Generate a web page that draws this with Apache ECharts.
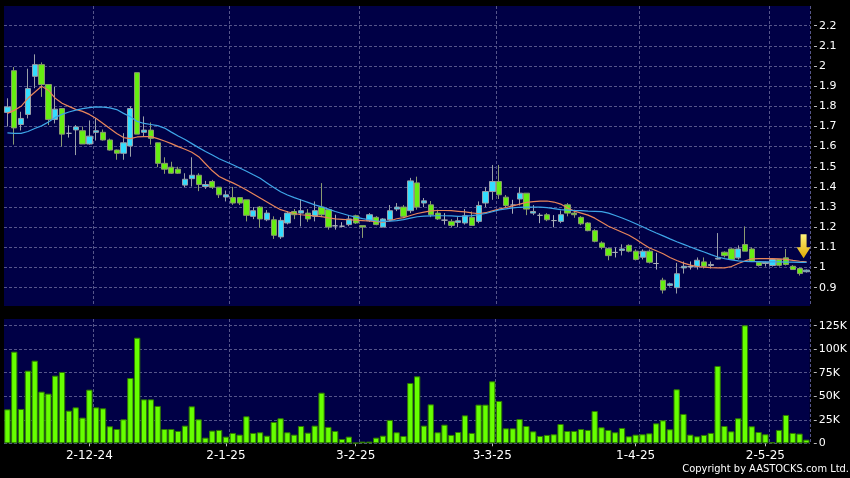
<!DOCTYPE html>
<html><head><meta charset="utf-8">
<script src="https://cdn.jsdelivr.net/npm/echarts@6/dist/echarts.min.js"></script>
<style>html,body{margin:0;padding:0;background:#000;}#c{width:850px;height:478px;}</style>
</head><body><div id="c"></div>
<script>
const dates = [
'14-11-24','15-11-24','18-11-24','19-11-24','20-11-24','21-11-24','22-11-24','25-11-24','26-11-24','27-11-24','28-11-24','29-11-24',
'2-12-24','3-12-24','4-12-24','5-12-24','6-12-24','9-12-24','10-12-24','11-12-24','12-12-24','13-12-24','16-12-24','17-12-24','18-12-24','19-12-24','20-12-24','23-12-24','24-12-24','27-12-24','30-12-24','31-12-24',
'2-1-25','3-1-25','6-1-25','7-1-25','8-1-25','9-1-25','10-1-25','13-1-25','14-1-25','15-1-25','16-1-25','17-1-25','20-1-25','21-1-25','22-1-25','23-1-25','24-1-25','27-1-25','28-1-25',
'3-2-25','4-2-25','5-2-25','6-2-25','7-2-25','10-2-25','11-2-25','12-2-25','13-2-25','14-2-25','17-2-25','18-2-25','19-2-25','20-2-25','21-2-25','24-2-25','25-2-25','26-2-25','27-2-25','28-2-25',
'3-3-25','4-3-25','5-3-25','6-3-25','7-3-25','10-3-25','11-3-25','12-3-25','13-3-25','14-3-25','17-3-25','18-3-25','19-3-25','20-3-25','21-3-25','24-3-25','25-3-25','26-3-25','27-3-25','28-3-25','31-3-25',
'1-4-25','2-4-25','3-4-25','7-4-25','8-4-25','9-4-25','10-4-25','11-4-25','14-4-25','15-4-25','16-4-25','17-4-25','22-4-25','23-4-25','24-4-25','25-4-25','28-4-25','29-4-25','30-4-25',
'2-5-25','6-5-25','7-5-25','8-5-25','9-5-25','12-5-25','13-5-25'];

const opens = [1.77,1.977,1.71,1.76,1.949,2.007,1.908,1.735,1.789,1.666,1.683,1.679,1.613,1.671,1.671,1.633,1.583,1.567,1.603,1.967,
1.671,1.682,1.619,1.517,1.498,1.488,1.409,1.441,1.458,1.402,1.427,1.399,1.35,1.347,1.347,1.336,1.254,1.30,1.237,1.237,
1.152,1.221,1.278,1.27,1.27,1.254,1.30,1.287,1.207,1.205,1.213,1.257,1.208,1.232,1.249,1.201,1.237,1.29,1.30,1.282,
1.42,1.32,1.311,1.27,1.235,1.229,1.224,1.221,1.249,1.229,1.32,1.377,1.427,1.349,1.31,1.34,1.369,1.27,1.259,1.262,
1.233,1.229,1.311,1.27,1.249,1.221,1.183,1.122,1.094,1.075,1.085,1.11,1.081,1.051,1.081,1.02,0.937,0.911,0.90,0.998,
1.004,1.006,1.028,1.01,1.042,1.076,1.092,1.048,1.114,1.092,1.026,1.02,1.01,1.04,1.048,1.006,0.995,0.979];
const closes = [1.797,1.693,1.74,1.888,2.007,1.908,1.735,1.786,1.662,1.666,1.698,1.613,1.652,1.679,1.633,1.583,1.567,1.619,1.789,1.662,
1.682,1.641,1.517,1.488,1.468,1.468,1.438,1.458,1.412,1.412,1.399,1.361,1.361,1.32,1.32,1.259,1.282,1.241,1.27,1.16,
1.234,1.27,1.262,1.282,1.241,1.282,1.262,1.201,1.207,1.205,1.241,1.221,1.201,1.262,1.213,1.241,1.282,1.30,1.254,1.43,
1.30,1.331,1.262,1.241,1.235,1.209,1.232,1.257,1.209,1.308,1.377,1.427,1.361,1.308,1.31,1.369,1.29,1.278,1.259,1.237,
1.233,1.262,1.27,1.262,1.217,1.183,1.13,1.10,1.059,1.075,1.092,1.081,1.04,1.081,1.026,1.02,0.888,0.919,0.969,1.006,
1.004,1.036,1.006,1.015,1.046,1.059,1.04,1.092,1.081,1.031,1.01,1.026,1.04,1.011,1.015,0.99,0.97,0.987];
const lows = [1.70,1.61,1.68,1.74,1.89,1.847,1.707,1.715,1.60,1.645,1.558,1.613,1.61,1.63,1.63,1.58,1.535,1.535,1.55,1.662,
1.65,1.61,1.498,1.465,1.465,1.465,1.399,1.402,1.379,1.39,1.39,1.345,1.328,1.311,1.31,1.229,1.24,1.196,1.23,1.142,
1.142,1.214,1.24,1.204,1.227,1.229,1.25,1.188,1.188,1.20,1.205,1.216,1.147,1.226,1.21,1.20,1.23,1.28,1.245,1.27,
1.287,1.30,1.25,1.236,1.213,1.20,1.20,1.213,1.209,1.22,1.30,1.336,1.34,1.298,1.267,1.308,1.26,1.26,1.22,1.23,
1.20,1.22,1.254,1.247,1.21,1.18,1.125,1.09,1.036,1.05,1.06,1.075,1.035,1.04,1.02,0.99,0.871,0.905,0.871,0.97,
0.99,0.99,0.995,0.995,1.04,1.05,1.04,1.04,1.081,1.03,1.005,1.005,1.005,1.005,1.01,0.988,0.96,0.975];
const highs = [1.84,1.995,1.773,1.987,2.058,2.018,1.91,1.896,1.79,1.705,1.707,1.70,1.73,1.74,1.685,1.64,1.585,1.667,1.80,1.967,
1.75,1.72,1.62,1.547,1.525,1.50,1.468,1.547,1.468,1.43,1.435,1.40,1.382,1.40,1.35,1.336,1.30,1.305,1.285,1.254,
1.25,1.28,1.29,1.34,1.29,1.328,1.419,1.287,1.262,1.225,1.26,1.262,1.208,1.27,1.255,1.245,1.31,1.32,1.31,1.445,
1.451,1.345,1.33,1.287,1.27,1.24,1.25,1.29,1.278,1.328,1.40,1.509,1.509,1.36,1.336,1.40,1.369,1.31,1.27,1.27,
1.26,1.283,1.32,1.287,1.255,1.225,1.19,1.13,1.10,1.10,1.115,1.115,1.09,1.09,1.09,1.073,0.949,0.925,1.023,1.03,
1.03,1.05,1.05,1.03,1.171,1.08,1.095,1.11,1.204,1.10,1.03,1.03,1.04,1.04,1.092,1.012,1.0,0.99];
const volumes = [36.1,97.4,36.5,77.2,87.8,54.9,52.8,71.9,75.8,34.7,38.2,27.3,57.0,38.2,37.2,18.1,15.2,25.5,69.4,112.2,
46.7,46.7,39.7,15.2,15.2,13.1,18.8,39.3,25.5,6.0,13.5,14.2,7.1,11.0,9.2,28.7,11.0,11.7,8.1,22.7,
26.6,11.7,9.2,18.4,11.3,18.8,53.8,17.4,13.1,4.6,7.1,0.4,1.8,1.8,6.0,8.1,24.8,11.7,7.8,64.1,
71.2,18.8,41.4,11.7,19.8,8.9,12.0,29.7,11.0,41.1,41.1,65.9,45.0,15.9,15.9,25.8,18.4,12.7,7.8,8.9,
9.6,20.5,13.1,13.1,15.2,14.2,34.3,17.0,14.2,11.7,16.3,7.4,9.2,9.6,10.6,21.2,24.4,14.9,57.4,31.2,
9.2,7.4,8.9,11.0,82.2,18.4,12.7,26.6,125.4,18.1,12.0,9.6,1.1,14.2,30.1,11.0,10.3,3.9];
const maShort = [1.765,1.78,1.80,1.84,1.87,1.90,1.88,1.84,1.815,1.80,1.785,1.775,1.76,1.74,1.715,1.69,1.665,1.645,1.64,1.648,
1.65,1.65,1.64,1.628,1.615,1.60,1.587,1.572,1.55,1.515,1.48,1.452,1.435,1.42,1.403,1.385,1.365,1.345,1.325,1.305,
1.287,1.277,1.268,1.262,1.259,1.256,1.253,1.246,1.241,1.239,1.237,1.235,1.233,1.231,1.228,1.225,1.232,1.242,1.248,1.258,
1.268,1.275,1.281,1.283,1.283,1.282,1.279,1.276,1.271,1.267,1.272,1.281,1.29,1.298,1.306,1.315,1.323,1.327,1.33,1.33,
1.325,1.315,1.295,1.28,1.27,1.26,1.245,1.225,1.205,1.19,1.175,1.16,1.14,1.118,1.097,1.083,1.068,1.05,1.035,1.022,
1.012,1.005,1.002,0.999,0.998,0.998,1.005,1.02,1.033,1.043,1.044,1.044,1.044,1.043,1.04,1.035,1.031,1.028];
const maLong = [1.668,1.666,1.666,1.675,1.69,1.703,1.722,1.745,1.76,1.772,1.781,1.789,1.794,1.797,1.796,1.792,1.784,1.765,1.748,1.725,
1.715,1.71,1.704,1.692,1.672,1.653,1.635,1.615,1.595,1.576,1.558,1.54,1.525,1.51,1.494,1.478,1.46,1.443,1.42,1.397,
1.376,1.36,1.347,1.335,1.323,1.311,1.301,1.29,1.278,1.268,1.258,1.25,1.243,1.237,1.231,1.229,1.23,1.233,1.238,1.245,
1.252,1.255,1.256,1.257,1.257,1.256,1.254,1.255,1.258,1.262,1.268,1.277,1.286,1.291,1.296,1.299,1.30,1.30,1.30,1.297,
1.292,1.287,1.285,1.283,1.282,1.28,1.279,1.277,1.27,1.258,1.246,1.232,1.217,1.202,1.186,1.171,1.157,1.142,1.128,1.115,
1.102,1.089,1.077,1.064,1.052,1.044,1.038,1.033,1.03,1.029,1.029,1.028,1.028,1.028,1.027,1.027,1.026,1.026];
const tickDates = ['2-12-24','2-1-25','3-2-25','3-3-25','1-4-25','2-5-25'];
const priceTicks = [0.9,1.0,1.1,1.2,1.3,1.4,1.5,1.6,1.7,1.8,1.9,2.0,2.1,2.2];
const volumeTicks = [0,25000,50000,75000,100000,125000];
const arrowAt = ['13-5-25', 1.105];

const labelIdx = tickDates.map(d => dates.indexOf(d));
const splitIdx = labelIdx.map(i => i + 1);
const candleData = dates.map((d, i) => [opens[i], closes[i], lows[i], highs[i]]);
const volData = volumes.map(v => v * 1000);

const FONT = 'DejaVu Sans';
const GRIDC = '#55558a';
const chart = echarts.init(document.getElementById('c'), null, {renderer: 'canvas'});
chart.setOption({
  backgroundColor: '#000',
  animation: false,
  textStyle: {fontFamily: FONT},
  title: {text: 'Copyright by AASTOCKS.com Ltd.', right: 1, top: 464, padding: 0,
    textStyle: {color: '#fff', fontSize: 11, fontWeight: 'normal', fontFamily: '"DejaVu Sans Condensed", "Liberation Sans", sans-serif'}},
  grid: [
    {left: 4, top: 6, width: 806, height: 300, show: true, backgroundColor: '#000046', borderWidth: 0},
    {left: 4, top: 319, width: 806, height: 124.3, show: true, backgroundColor: '#000046', borderWidth: 0}
  ],
  xAxis: [
    {type: 'category', gridIndex: 0, data: dates, boundaryGap: true,
     axisLine: {show: false}, axisTick: {show: false}, axisLabel: {show: false},
     splitLine: {show: true, interval: (i) => splitIdx.includes(i), lineStyle: {color: GRIDC, type: [3, 2], width: 1}}},
    {type: 'category', gridIndex: 1, data: dates, boundaryGap: true, offset: 3,
     axisLine: {show: false},
     axisTick: {show: true, alignWithLabel: true, interval: (i) => labelIdx.includes(i), length: 3, lineStyle: {color: '#bbb'}},
     axisLabel: {show: true, interval: (i) => labelIdx.includes(i), color: '#fff', fontSize: 12, margin: 4, fontFamily: FONT},
     splitLine: {show: true, interval: (i) => splitIdx.includes(i), lineStyle: {color: GRIDC, type: [3, 2], width: 1}}}
  ],
  yAxis: [
    {type: 'value', gridIndex: 0, position: 'right', min: 0.809, max: 2.298, offset: 4,
     axisLine: {show: false},
     axisTick: {show: true, length: 3, customValues: priceTicks, lineStyle: {color: '#bbb'}},
     axisLabel: {show: true, customValues: priceTicks, color: '#fff', fontSize: 11, margin: 5, fontFamily: FONT,
       formatter: v => String(+(+v).toFixed(1))},
     splitLine: {show: true, customValues: priceTicks, lineStyle: {color: GRIDC, type: [3, 2], width: 1}}},
    {type: 'value', gridIndex: 1, position: 'right', min: 0, max: 132100, offset: 4,
     axisLine: {show: false},
     axisTick: {show: true, length: 3, customValues: volumeTicks, lineStyle: {color: '#bbb'}},
     axisLabel: {show: true, customValues: volumeTicks, color: '#fff', fontSize: 11, margin: 5, fontFamily: FONT,
       formatter: v => v === 0 ? '0' : (v / 1000) + 'K'},
     splitLine: {show: true, customValues: volumeTicks, lineStyle: {color: GRIDC, type: [3, 2], width: 1}}}
  ],
  series: [
    {type: 'candlestick', xAxisIndex: 0, yAxisIndex: 0, data: candleData, barWidth: '84%',
     itemStyle: {color: '#33ddff', color0: '#66ee11', borderColor: '#9aa0a8', borderColor0: '#8a9a70', borderColorDoji: '#aab0b8', borderWidth: 1},
     markPoint: {silent: true, data: [{coord: arrowAt, symbol: 'path://M4,0 L10,0 L10,13 L14,13 L7,24 L0,13 L4,13 Z',
       symbolSize: [14, 24], symbolOffset: [-3, 0], label: {show: false},
       itemStyle: {color: new echarts.graphic.LinearGradient(0, 0, 0, 1, [{offset: 0, color: '#fff27a'}, {offset: 1, color: '#e0a800'}])}}]}},
    {type: 'line', xAxisIndex: 0, yAxisIndex: 0, data: maShort, showSymbol: false, symbol: 'none',
     lineStyle: {color: '#e8855a', width: 1.2}},
    {type: 'line', xAxisIndex: 0, yAxisIndex: 0, data: maLong, showSymbol: false, symbol: 'none',
     lineStyle: {color: '#3ea6e8', width: 1.2}},
    {type: 'bar', xAxisIndex: 1, yAxisIndex: 1, data: volData, barWidth: '92%',
     itemStyle: {color: '#66ff00', borderColor: '#2f7a00', borderWidth: 1}}
  ]
});
</script></body></html>
